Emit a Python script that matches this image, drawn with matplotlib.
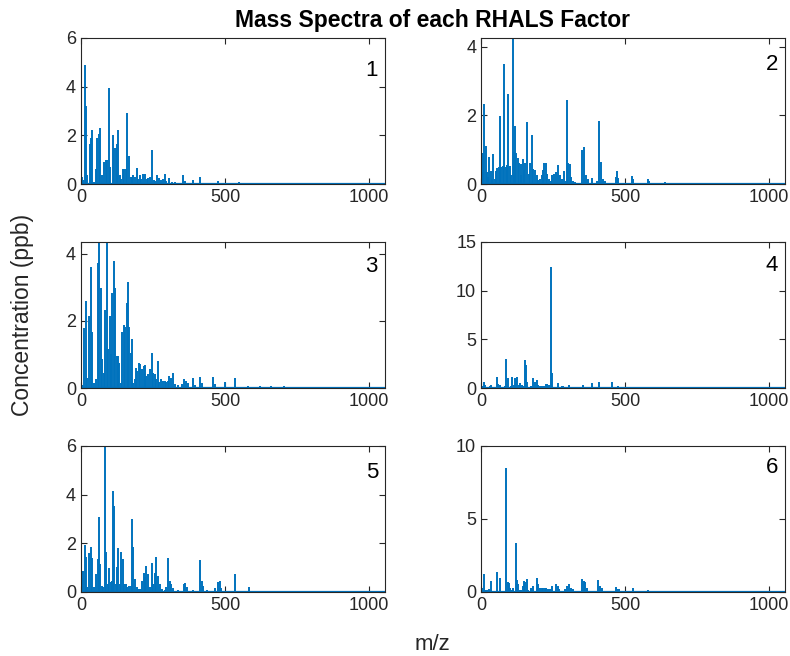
import numpy as np
import matplotlib
matplotlib.use('Agg')
import matplotlib.pyplot as plt

# peak lists (m/z, concentration in ppb)
f1_mz = [3, 8, 13, 17, 22, 30, 34, 37, 45, 53, 57, 61, 67, 73, 81, 86, 92, 96, 101, 110, 115, 121, 125, 130,
         135, 140, 145, 150, 155, 161, 166, 172, 177, 182, 187, 194, 198, 204, 210, 216, 222, 228, 234, 240, 245,
         252, 258, 264, 270, 277, 283, 290, 296, 306, 316, 325, 355, 360, 388, 412, 440, 477, 550, 620, 700]
f1_int = [0.3, 0.15, 4.9, 3.2, 0.35, 1.65, 1.9, 2.2, 0.1, 0.6, 1.9, 2.05, 2.3, 0.35, 0.9, 1.0, 1.0, 3.95, 0.7,
          2.0, 1.5, 1.5, 1.65, 2.2, 0.35, 0.2, 0.6, 0.6, 0.6, 2.9, 1.15, 0.3, 0.3, 0.35, 0.3, 0.65, 0.2, 0.35,
          0.2, 0.4, 0.4, 0.2, 0.25, 0.3, 1.4, 0.15, 0.12, 0.35, 0.25, 0.15, 0.2, 0.4, 0.12, 0.25, 0.1, 0.08,
          0.35, 0.12, 0.17, 0.3, 0.06, 0.12, 0.08, 0.04, 0.03]

f2_mz = [3, 8, 12, 16, 20, 24, 29, 34, 38, 43, 48, 52, 57, 61, 66, 71, 75, 80, 85, 89, 94, 99, 103, 110, 115,
         118, 123, 128, 132, 137, 140, 145, 150, 154, 160, 165, 169, 176, 181, 187, 193, 198, 204, 210, 215, 219,
         225, 230, 236, 242, 247, 253, 260, 267, 273, 281, 289, 294, 298, 303, 308, 313, 320, 326, 351, 358, 364,
         371, 386, 401, 409, 416, 422, 430, 467, 472, 477, 523, 528, 579, 584, 639, 700, 780, 860, 950]
f2_int = [0.36, 0.9, 2.33, 1.1, 0.36, 0.2, 0.8, 0.38, 0.15, 0.87, 0.15, 0.38, 0.48, 0.5, 1.98, 0.5, 0.53,
          3.51, 0.5, 0.55, 2.62, 0.52, 0.26, 4.26, 0.94, 1.7, 0.91, 0.75, 0.62, 0.26, 0.57, 0.73, 0.4, 0.6,
          1.8, 0.3, 0.6, 1.43, 0.43, 0.4, 0.26, 0.12, 0.15, 0.26, 0.4, 0.6, 0.6, 0.3, 0.15, 0.08, 0.26, 0.28,
          0.36, 0.55, 0.26, 0.15, 0.38, 0.1, 2.45, 0.6, 0.57, 0.2, 0.09, 0.06, 0.99, 1.09, 0.26, 0.15, 0.17,
          0.1, 1.85, 0.65, 0.15, 0.08, 0.2, 0.38, 0.18, 0.24, 0.14, 0.15, 0.08, 0.07, 0.04, 0.03, 0.03, 0.02]

f3_mz = [5, 10, 16, 22, 29, 34, 38, 45, 53, 59, 64, 68, 74, 80, 84, 89, 94, 100, 103, 109, 114, 118, 124, 129,
         133, 138, 143, 149, 153, 158, 163, 167, 172, 177, 182, 186, 191, 196, 202, 206, 211, 217, 222, 227, 233,
         239, 245, 250, 256, 261, 267, 272, 278, 284, 290, 296, 302, 307, 313, 320, 326, 338, 350, 358, 366, 372,
         390, 396, 414, 420, 458, 465, 500, 534, 581, 620, 660, 704, 760, 850]
f3_int = [0.08, 1.79, 2.58, 0.3, 2.16, 3.62, 1.66, 0.15, 0.27, 3.73, 4.33, 2.98, 0.85, 0.46, 2.33, 4.35, 1.15,
          2.14, 1.0, 2.83, 3.78, 2.98, 0.96, 0.94, 0.76, 0.15, 1.66, 1.89, 1.82, 2.53, 3.17, 1.82, 1.05, 1.45,
          0.15, 0.27, 0.61, 0.51, 0.74, 0.71, 0.56, 0.66, 0.68, 0.36, 0.41, 0.56, 1.05, 0.46, 0.41, 0.27, 0.8,
          0.17, 0.27, 0.22, 0.22, 0.17, 0.22, 0.36, 0.29, 0.46, 0.12, 0.08, 0.12, 0.27, 0.22, 0.15, 0.29, 0.08,
          0.32, 0.15, 0.34, 0.12, 0.17, 0.29, 0.07, 0.05, 0.06, 0.05, 0.04, 0.03]

f4_mz = [3, 9, 14, 24, 30, 36, 46, 56, 60, 66, 77, 82, 87, 95, 103, 108, 113, 117, 122, 126, 131, 136, 143, 147,
         152, 157, 161, 167, 173, 182, 187, 193, 198, 204, 212, 218, 224, 230, 236, 243, 246, 252, 259, 268, 274,
         280, 286, 294, 305, 312, 320, 328, 338, 353, 359, 386, 392, 410, 416, 436, 456, 463, 474, 527, 580, 640]
f4_int = [0.2, 0.65, 0.3, 0.12, 0.24, 0.3, 0.12, 1.16, 0.4, 0.35, 0.12, 0.2, 2.95, 1.0, 0.2, 1.16, 0.3, 1.0,
          0.82, 1.1, 0.3, 0.48, 0.3, 0.24, 2.88, 2.36, 0.65, 0.12, 0.2, 1.0, 0.65, 0.82, 0.3, 0.24, 0.24, 0.24,
          0.4, 0.4, 0.3, 12.47, 1.5, 0.12, 0.12, 0.55, 0.12, 0.24, 0.24, 0.12, 0.3, 0.12, 0.1, 0.1, 0.1, 0.3,
          0.12, 0.48, 0.1, 0.65, 0.12, 0.1, 0.58, 0.12, 0.2, 0.12, 0.1, 0.04]

f5_mz = [3, 8, 13, 17, 22, 29, 34, 38, 45, 53, 58, 63, 67, 72, 78, 84, 88, 93, 97, 103, 108, 111, 115, 121, 125,
         130, 135, 140, 145, 150, 155, 160, 166, 172, 177, 182, 187, 193, 199, 205, 211, 217, 222, 226, 232, 238,
         245, 250, 256, 262, 268, 274, 282, 290, 296, 303, 308, 313, 321, 337, 356, 361, 368, 390, 414, 419, 425,
         438, 465, 477, 481, 486, 534, 583, 610, 680, 760]
f5_int = [0.59, 0.86, 1.93, 1.44, 0.2, 1.6, 1.85, 1.38, 0.2, 0.73, 1.34, 3.08, 1.14, 0.25, 0.2, 6.0, 1.66, 0.32,
          0.97, 0.42, 0.45, 4.15, 3.53, 0.34, 1.03, 1.82, 0.32, 1.66, 1.34, 0.32, 0.34, 0.2, 0.25, 0.25, 2.99,
          1.85, 0.52, 0.2, 0.12, 0.12, 0.45, 0.79, 0.62, 1.07, 0.73, 0.2, 1.2, 0.32, 0.79, 1.44, 0.66, 0.32, 0.12,
          0.08, 0.2, 1.41, 0.45, 0.32, 0.15, 0.1, 0.32, 0.38, 0.2, 0.1, 1.3, 0.45, 0.25, 0.1, 0.18, 0.42, 0.45,
          0.15, 0.75, 0.2, 0.04, 0.03, 0.03]

f6_mz = [3, 9, 14, 21, 29, 34, 40, 49, 56, 60, 65, 70, 77, 87, 92, 96, 101, 106, 110, 116, 121, 125, 130, 135,
         140, 145, 150, 154, 159, 164, 169, 175, 181, 187, 193, 198, 204, 210, 216, 222, 227, 233, 239, 245, 250,
         256, 261, 266, 271, 277, 283, 291, 300, 306, 312, 319, 330, 352, 356, 361, 368, 374, 407, 412, 419, 426,
         467, 473, 479, 529, 535, 579, 610, 660, 720, 800]
f6_int = [0.3, 1.26, 0.12, 0.12, 0.18, 0.75, 0.08, 0.08, 1.39, 0.08, 0.94, 0.08, 0.08, 8.52, 0.71, 0.64, 0.3,
          0.12, 0.3, 0.08, 3.38, 0.8, 0.57, 0.15, 0.12, 0.41, 0.75, 0.71, 0.87, 0.15, 0.08, 0.25, 0.41, 0.08,
          0.98, 0.57, 0.3, 0.3, 0.25, 0.25, 0.3, 0.18, 0.22, 0.41, 0.08, 0.08, 0.57, 0.41, 0.22, 0.08, 0.08,
          0.23, 0.41, 0.52, 0.3, 0.18, 0.08, 0.91, 0.75, 0.68, 0.25, 0.08, 0.8, 0.41, 0.3, 0.08, 0.34, 0.18,
          0.18, 0.3, 0.08, 0.12, 0.08, 0.05, 0.04, 0.03]

factor_labels = ['1', '2', '3', '4', '5', '6']
spectra = [(f1_mz, f1_int), (f2_mz, f2_int), (f3_mz, f3_int),
           (f4_mz, f4_int), (f5_mz, f5_int), (f6_mz, f6_int)]
y_max = [6, 4.26, 4.35, 15, 6, 10]
y_ticks = [[0, 2, 4, 6], [0, 2, 4], [0, 2, 4], [0, 5, 10, 15], [0, 2, 4, 6], [0, 5, 10]]
label_y = [0.78, 0.82, 0.83, 0.84, 0.815, 0.85]

blue = '#0072BD'
dark = '#262626'
plt.rcParams['font.family'] = ['Liberation Sans', 'DejaVu Sans']

fig = plt.figure(figsize=(7.9, 6.56), dpi=100)

lefts = [0.1025, 0.6089]
bottoms = [0.7195, 0.4085, 0.0976]
w, h = 0.3848, 0.2226

for i, (mz, inten) in enumerate(spectra):
    row, col = i // 2, i % 2
    ax = fig.add_axes([lefts[col], bottoms[row], w, h])
    ax.vlines(mz, 0, inten, color=blue, lw=1.4)
    ax.axhline(0, color=blue, lw=1.6)
    ax.set_xlim(0, 1055)
    ax.set_ylim(0, y_max[i])
    ax.set_xticks([0, 500, 1000])
    ax.set_yticks(y_ticks[i])
    ax.tick_params(direction='in', top=True, right=True, labelsize=13, colors=dark, length=4, width=0.8)
    for s in ax.spines.values():
        s.set_color(dark)
        s.set_linewidth(0.8)
    ax.text(0.977, label_y[i], factor_labels[i], transform=ax.transAxes,
            ha='right', va='center', fontsize=16)

fig.text(0.548, 0.969, 'Mass Spectra of each RHALS Factor', ha='center', va='center',
         fontsize=16.5, fontweight='bold')
fig.text(0.028, 0.52, 'Concentration (ppb)', rotation=90, ha='center', va='center',
         fontsize=16.5, color=dark)
fig.text(0.548, 0.017, 'm/z', ha='center', va='center', fontsize=16, color=dark)

plt.savefig('out.png', dpi=100)
